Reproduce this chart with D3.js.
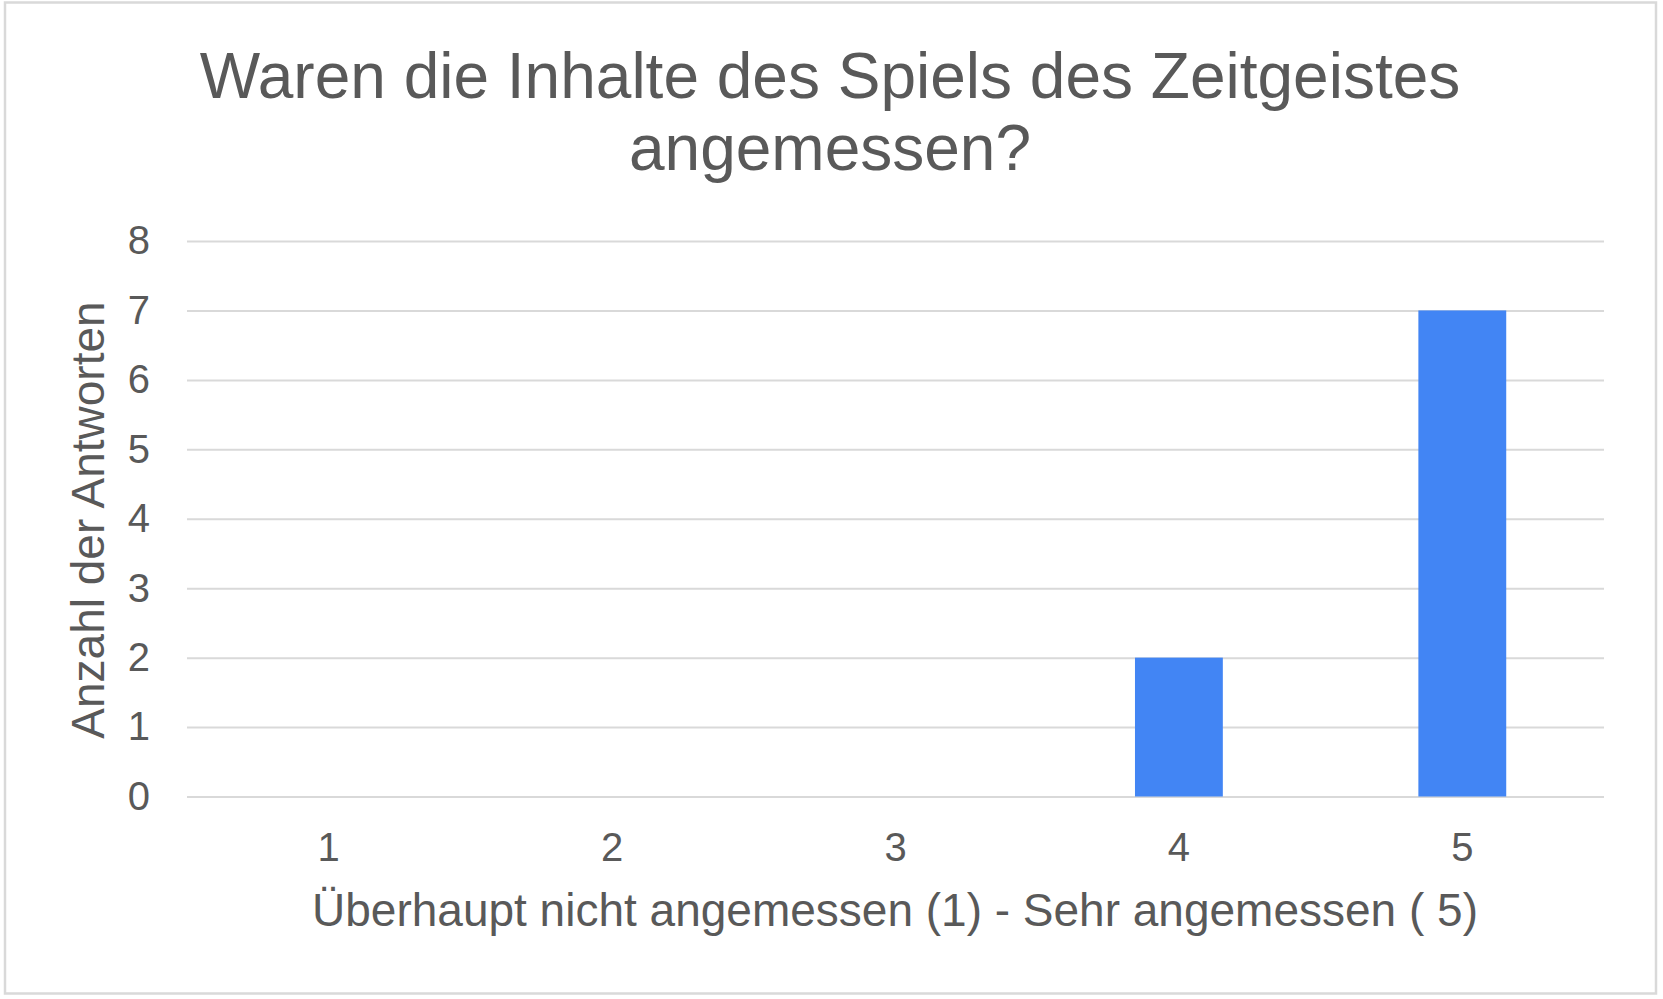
<!DOCTYPE html>
<html>
<head>
<meta charset="utf-8">
<script src="https://cdn.jsdelivr.net/npm/d3@7"></script>
<style>
  body { margin: 0; background: #fff; }
  text { font-family: "Liberation Sans", Arial, sans-serif; fill: #595959; }
</style>
</head>
<body>
<div class="chart"></div>
<script>
/* chart data */
var categories = ["1", "2", "3", "4", "5"];
var counts = [0, 0, 0, 2, 7];
var yTicks = [0, 1, 2, 3, 4, 5, 6, 7, 8];
var titleLines = ["Waren die Inhalte des Spiels des Zeitgeistes", "angemessen?"];
var xTitle = "Überhaupt nicht angemessen (1) - Sehr angemessen ( 5)";
var yTitle = "Anzahl der Antworten";

function drawChart() {
  var width = 1663,
      height = 999;

  /* plot area */
  var plotLeft = 187, plotRight = 1604, plotTop = 241, plotBottom = 796.5;

  var svg = d3.select(".chart")
    .append("svg")
      .attr("width", width)
      .attr("height", height);

  /* outer frame */
  svg.append("rect")
    .attr("x", 5)
    .attr("y", 2.5)
    .attr("width", 1651)
    .attr("height", 991)
    .attr("fill", "#fff")
    .attr("stroke", "#d9d9d9")
    .attr("stroke-width", 2.5);

  var x = d3.scaleBand()
    .domain(categories)
    .range([plotLeft, plotRight])
    .paddingInner(0.69)
    .paddingOuter(0.345);

  var y = d3.scaleLinear()
    .domain([0, 8])
    .range([plotBottom, plotTop]);

  /* y axis with gridlines */
  var yAxis = svg.append("g")
    .attr("transform", "translate(" + plotLeft + ",0)")
    .call(d3.axisLeft(y)
      .tickValues(yTicks)
      .tickSize(-(plotRight - plotLeft))
      .tickPadding(37));
  yAxis.select(".domain").remove();
  yAxis.selectAll("line")
    .attr("stroke", "#d9d9d9")
    .attr("stroke-width", 2);
  yAxis.selectAll("text")
    .style("font-size", "40px")
    .attr("fill", "#595959");

  /* bars */
  svg.selectAll(".bar")
    .data(counts)
    .enter()
      .append("rect")
        .attr("class", "bar")
        .attr("x", function(d, i) { return x(categories[i]); })
        .attr("y", function(d) { return y(d); })
        .attr("width", x.bandwidth())
        .attr("height", function(d) { return y(0) - y(d); })
        .attr("fill", "#4285f4");

  /* x axis labels */
  var xAxis = svg.append("g")
    .attr("transform", "translate(0," + plotBottom + ")")
    .call(d3.axisBottom(x).tickSize(0).tickPadding(36));
  xAxis.select(".domain").remove();
  xAxis.selectAll("text")
    .style("font-size", "40px")
    .attr("fill", "#595959");

  /* title */
  svg.selectAll(".title")
    .data(titleLines)
    .enter()
      .append("text")
        .attr("class", "title")
        .attr("x", 830)
        .attr("y", function(d, i) { return 98 + i * 72; })
        .attr("text-anchor", "middle")
        .style("font-size", "64px")
        .text(function(d) { return d; });

  /* axis titles */
  svg.append("text")
    .attr("x", 895)
    .attr("y", 926)
    .attr("text-anchor", "middle")
    .style("font-size", "46px")
    .text(xTitle);

  svg.append("text")
    .attr("transform", "translate(104,520) rotate(-90)")
    .attr("text-anchor", "middle")
    .style("font-size", "46px")
    .text(yTitle);
}

drawChart();
</script>
</body>
</html>
